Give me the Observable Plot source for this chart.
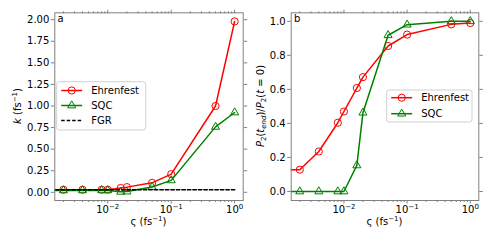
<!DOCTYPE html>
<html><head><meta charset="utf-8">
<script src="https://cdn.jsdelivr.net/npm/d3@7"></script>
<script src="https://cdn.jsdelivr.net/npm/@observablehq/plot@0.6"></script>
<style>
body{margin:0;background:#fff;}
#wrap{position:relative;width:491px;height:245px;overflow:hidden;font-family:"DejaVu Sans",sans-serif;}
#wrap svg{position:absolute;top:0;}
</style></head><body><div id="wrap"></div>
<script>
// ---- data ----
const zeta = [0.001, 0.002, 0.004, 0.008, 0.01, 0.016, 0.02, 0.05, 0.1, 0.5, 1];
const kEhrenfest = [0.03, 0.03, 0.03, 0.03, 0.03, 0.05, 0.06, 0.11, 0.21, 1.0, 1.98];
const kSQC = [0.022, 0.022, 0.022, 0.022, 0.022, 0.005, 0.008, 0.062, 0.138, 0.758, 0.925];
const fgrZeta = [0.001, 1];
const kFGR = [0.03, 0.03];
const pEhrenfest = [0.128, 0.128, 0.235, 0.404, 0.47, 0.608, 0.672, 0.855, 0.922, 0.982, 0.99];
const pSQC = [0, 0, 0, 0, 0, 0.153, 0.463, 0.918, 0.98, 1.0, 1.0];
const kTicks = [0, 0.25, 0.5, 0.75, 1.0, 1.25, 1.5, 1.75, 2.0];
const pTicks = [0, 0.2, 0.4, 0.6, 0.8, 1.0];
const xMajor = [0.01, 0.1, 1];
const xMajorExp = ["\u22122", "\u22121", "0"];
const xMinor = [-3, -2, -1].flatMap(e => [2,3,4,5,6,7,8,9].map(m => m * Math.pow(10, e)));
const seriesNames = ["Ehrenfest", "SQC", "FGR"];
const seriesColors = ["red", "green", "black"];

const X_DOMAIN = [0.001462, 1.3646];
const rowsA = zeta.map((z, i) => ({z, e: kEhrenfest[i], s: kSQC[i]}));
const fgrRows = fgrZeta.map((z, i) => ({z, k: kFGR[i]}));
const rowsB = zeta.map((z, i) => ({z, e: pEhrenfest[i], s: pSQC[i]}));

const SPINE = "#808080";
const LW = 1.5;

function axes(yTicks, yFmt) {
  return [
    Plot.axisY({ticks: yTicks, tickFormat: yFmt, tickSize: 3.5, tickPadding: 2, label: null, stroke: SPINE, fill: "#000"}),
    Plot.axisY({anchor: "right", ticks: yTicks, tickFormat: () => "", tickSize: 3.5, label: null, stroke: SPINE}),
    Plot.axisX({ticks: xMajor, tickFormat: d => "XT" + xMajor.indexOf(d), tickSize: 3.5, tickPadding: 2, label: null, stroke: SPINE, fill: "#000"}),
    Plot.axisX({ticks: xMinor, tickFormat: () => "", tickSize: 2, label: null, stroke: SPINE}),
    Plot.axisX({anchor: "top", ticks: xMajor, tickFormat: () => "", tickSize: 3.5, label: null, stroke: SPINE}),
    Plot.axisX({anchor: "top", ticks: xMinor, tickFormat: () => "", tickSize: 2, label: null, stroke: SPINE}),
    Plot.frame({stroke: SPINE, strokeWidth: 1})
  ];
}

const styleObj = {fontFamily: "DejaVu Sans", fontSize: "10px", color: "#000", background: "transparent", overflow: "visible"};

const plotA = Plot.plot({
  width: 245, height: 245,
  marginLeft: 54.3, marginRight: 2.3, marginTop: 12.3, marginBottom: 45,
  style: styleObj,
  x: {type: "log", domain: X_DOMAIN},
  y: {domain: [-0.095, 2.08]},
  marks: [
    Plot.lineY(rowsA, {x: "z", y: "e", stroke: seriesColors[0], strokeWidth: LW, clip: true}),
    Plot.dot(rowsA, {x: "z", y: "e", stroke: seriesColors[0], fill: "none", r: 3.6, strokeWidth: 1, clip: true}),
    Plot.lineY(rowsA, {x: "z", y: "s", stroke: seriesColors[1], strokeWidth: LW, clip: true}),
    Plot.dot(rowsA, {x: "z", y: "s", symbol: "triangle", stroke: seriesColors[1], fill: "none", r: 3, strokeWidth: 1, clip: true}),
    Plot.lineY(fgrRows, {x: "z", y: "k", stroke: seriesColors[2], strokeWidth: LW, strokeDasharray: "3.5,2", clip: true}),
    ...axes(kTicks, d => d.toFixed(2))
  ]
});

const plotB = Plot.plot({
  width: 246, height: 245,
  marginLeft: 45.7, marginRight: 12.7, marginTop: 12.3, marginBottom: 45,
  style: styleObj,
  x: {type: "log", domain: X_DOMAIN},
  y: {domain: [-0.053, 1.05]},
  marks: [
    Plot.lineY(rowsB, {x: "z", y: "e", stroke: seriesColors[0], strokeWidth: LW, clip: true}),
    Plot.dot(rowsB, {x: "z", y: "e", stroke: seriesColors[0], fill: "none", r: 3.6, strokeWidth: 1, clip: true}),
    Plot.lineY(rowsB, {x: "z", y: "s", stroke: seriesColors[1], strokeWidth: LW, clip: true}),
    Plot.dot(rowsB, {x: "z", y: "s", symbol: "triangle", stroke: seriesColors[1], fill: "none", r: 3, strokeWidth: 1, clip: true}),
    ...axes(pTicks, d => d.toFixed(1))
  ]
});

// render x tick labels as 10 with a superscript exponent
for (const svg of [plotA, plotB]) {
  d3.select(svg).selectAll("text").each(function () {
    const s = this.textContent;
    const m = /^XT(\d)$/.exec(s);
    if (!m) return;
    const el = d3.select(this);
    el.text(null);
    el.append("tspan").text("10");
    el.append("tspan").attr("font-size", 7).attr("dy", -4).text(xMajorExp[+m[1]]);
  });
}

const wrap = document.getElementById("wrap");
plotA.style.left = "0px";
plotB.style.left = "245px";
wrap.appendChild(plotA);
wrap.appendChild(plotB);

function addText(svg, x, y, opts = {}) {
  const t = d3.select(svg).append("text")
    .attr("x", x).attr("y", y)
    .attr("font-size", 10).attr("fill", "#000")
    .attr("font-family", "DejaVu Sans")
    .attr("text-anchor", opts.anchor || "start");
  if (opts.rotate) t.attr("transform", `rotate(${opts.rotate},${x},${y})`);
  return t;
}

function xLabel(svg, cx) {
  const t = addText(svg, cx, 225, {anchor: "middle"});
  t.append("tspan").text("\u03C2 (fs");
  t.append("tspan").attr("font-size", 7).attr("dy", -4).text("\u22121");
  t.append("tspan").attr("dy", 4).text(")");
}

// Panel a labels
xLabel(plotA, 148.5);
{
  const t = addText(plotA, 20.5, 106, {anchor: "middle", rotate: -90});
  t.append("tspan").attr("font-style", "italic").text("k");
  t.append("tspan").text(" (fs");
  t.append("tspan").attr("font-size", 7).attr("dy", -4).text("\u22121");
  t.append("tspan").attr("dy", 4).text(")");
}
addText(plotA, 57.5, 21.5).text("a");

// Panel b labels
xLabel(plotB, 139.5);
{
  const t = addText(plotB, 18.5, 106, {anchor: "middle", rotate: -90});
  t.append("tspan").attr("font-style", "italic").text("P");
  t.append("tspan").attr("font-size", 7).attr("dy", 2.5).text("2");
  t.append("tspan").attr("dy", -2.5).text("(");
  t.append("tspan").attr("font-style", "italic").text("t");
  t.append("tspan").attr("font-size", 7).attr("font-style", "italic").attr("dy", 2.5).text("end");
  t.append("tspan").attr("dy", -2.5).text(")/");
  t.append("tspan").attr("font-style", "italic").text("P");
  t.append("tspan").attr("font-size", 7).attr("dy", 2.5).text("2");
  t.append("tspan").attr("dy", -2.5).text("(");
  t.append("tspan").attr("font-style", "italic").text("t");
  t.append("tspan").text(" = 0)");
}
addText(plotB, 49, 21.5).text("b");

// Legends
function legend(svg, bx, by, bw, bh, rows, n) {
  const g = d3.select(svg).append("g");
  g.append("rect").attr("x", bx).attr("y", by).attr("width", bw).attr("height", bh)
    .attr("rx", 2.5).attr("fill", "white").attr("fill-opacity", 0.8)
    .attr("stroke", "#d0d0d0").attr("stroke-width", 1);
  for (let i = 0; i < n; i++) {
    const y = rows[i];
    const x0 = bx + 4.5, x1 = x0 + 21, xm = (x0 + x1) / 2;
    g.append("line").attr("x1", x0).attr("x2", x1).attr("y1", y).attr("y2", y)
      .attr("stroke", seriesColors[i]).attr("stroke-width", LW)
      .attr("stroke-dasharray", i === 2 ? "3.5,2" : null);
    if (i === 0) g.append("circle").attr("cx", xm).attr("cy", y).attr("r", 3.6)
      .attr("fill", "none").attr("stroke", seriesColors[i]);
    if (i === 1) g.append("path").attr("transform", `translate(${xm},${y})`)
      .attr("d", d3.symbol(d3.symbolTriangle, Math.PI * 9)())
      .attr("fill", "none").attr("stroke", seriesColors[i]);
    g.append("text").attr("x", x1 + 9).attr("y", y).attr("dy", "0.35em")
      .attr("text-anchor", "start")
      .attr("font-size", 10).attr("font-family", "DejaVu Sans").attr("fill", "#000")
      .text(seriesNames[i]);
  }
}
legend(plotA, 56.7, 81.7, 89, 48.3, [90.5, 105.5, 120.5], 3);
legend(plotB, 141.7, 90, 85.3, 32, [97.7, 113.7], 2);
</script></body></html>
